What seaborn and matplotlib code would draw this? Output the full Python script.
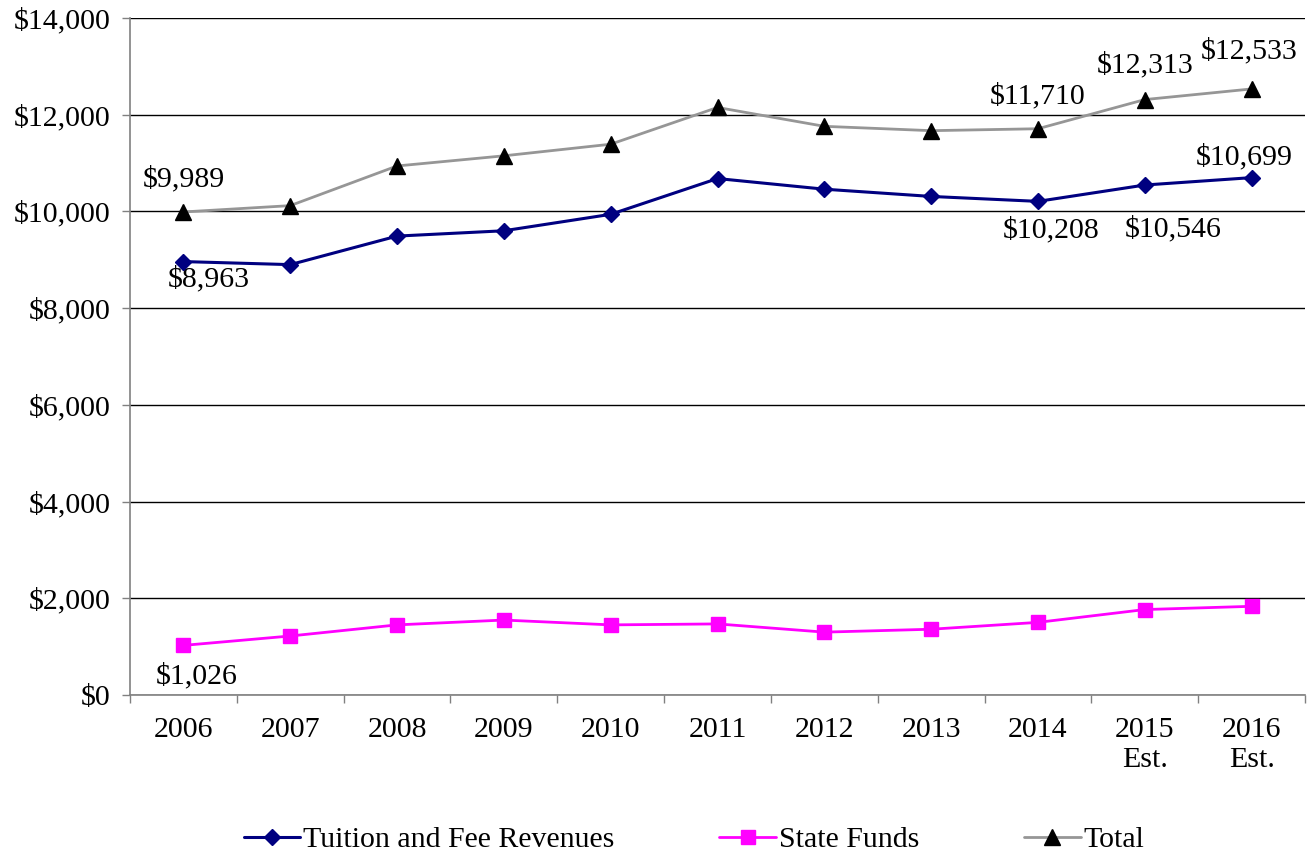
import matplotlib
matplotlib.use("Agg")
import matplotlib.pyplot as plt
from matplotlib.ticker import FuncFormatter, FixedLocator
import seaborn as sns
import numpy as np

categories = ["2006", "2007", "2008", "2009", "2010", "2011", "2012", "2013", "2014", "2015\nEst.", "2016\nEst."]
tuition = [8963, 8900, 9490, 9600, 9940, 10680, 10460, 10310, 10208, 10546, 10699]
state_funds = [1026, 1220, 1450, 1550, 1450, 1470, 1300, 1360, 1502, 1767, 1834]
total = [9989, 10120, 10940, 11150, 11390, 12150, 11760, 11670, 11710, 12313, 12533]

# labelled points: (series, index)
tuition_labels = [0, 8, 9, 10]
state_labels = [0]
total_labels = [0, 8, 9, 10]

sns.set_theme(style="white")
plt.rcParams['font.family'] = ['Liberation Serif', 'DejaVu Serif']
plt.rcParams['text.color'] = 'black'

fig = plt.figure(figsize=(13.07, 8.57), dpi=100)
ax = fig.add_axes([130/1307, 1-695/857, 1175/1307, 677/857])

x = np.arange(len(categories))

sns.lineplot(x=x, y=total, ax=ax, color="#969696", linewidth=2, marker="^",
             markersize=11, markerfacecolor="black", markeredgecolor="black",
             markeredgewidth=1, label="Total", zorder=3)
sns.lineplot(x=x, y=tuition, ax=ax, color="#000080", linewidth=2.2, marker="D",
             markersize=8, markerfacecolor="#000080", markeredgecolor="#000080",
             markeredgewidth=1, label="Tuition and Fee Revenues", zorder=4)
sns.lineplot(x=x, y=state_funds, ax=ax, color="#FF00FF", linewidth=2, marker="s",
             markersize=10, markerfacecolor="#FF00FF", markeredgecolor="#FF00FF",
             markeredgewidth=1, label="State Funds", zorder=4)

fs = 21.5

ax.set_xlim(-0.5, len(categories) - 0.5)
ax.set_ylim(0, 14000)
ax.set_yticks(np.arange(0, 14001, 2000))
ax.yaxis.set_major_formatter(FuncFormatter(lambda v, p: f"${v:,.0f}"))
ax.grid(axis="y", color="black", linewidth=1)
ax.set_axisbelow(True)

ax.set_xticks(x)
ax.set_xticklabels(categories, linespacing=1.2)
ax.xaxis.set_minor_locator(FixedLocator(np.arange(-0.5, len(categories), 1.0)))
ax.tick_params(axis="x", which="major", length=0, pad=16, labelsize=fs, colors="black")
ax.tick_params(axis="x", which="minor", length=6, width=1, color="#808080", direction="out", bottom=True)
ax.tick_params(axis="y", which="major", length=6, width=1, color="#808080", direction="out",
               left=True, pad=8, labelsize=fs, labelcolor="black")

for s in ["top", "right"]:
    ax.spines[s].set_visible(False)
for s in ["left", "bottom"]:
    ax.spines[s].set_color("#808080")
    ax.spines[s].set_linewidth(1.2)

def lab(i, vals, dx, dy):
    ax.annotate(f"${vals[i]:,}", xy=(x[i], vals[i]), xytext=(dx, dy),
                textcoords="offset pixels", ha="center", va="center", fontsize=fs, color="black")

offs_total = {0: (0, 33), 8: (0, 33), 9: (0, 35), 10: (-2, 38)}
for i in total_labels:
    lab(i, total, *offs_total[i])
offs_tuition = {0: (25, -17), 8: (13, -29), 9: (28, -44), 10: (-7, 21)}
for i in tuition_labels:
    lab(i, tuition, *offs_tuition[i])
offs_state = {0: (13, -31)}
for i in state_labels:
    lab(i, state_funds, *offs_state[i])

handles, labels = ax.get_legend_handles_labels()
order = [labels.index("Tuition and Fee Revenues"), labels.index("State Funds"), labels.index("Total")]
if ax.get_legend():
    ax.get_legend().remove()
fig.legend([handles[i] for i in order], [labels[i] for i in order], loc="center",
           bbox_to_anchor=(694/1307, 1-840/857), ncol=3, frameon=False, fontsize=fs,
           handlelength=1.9, handletextpad=0.1, columnspacing=3.5, borderaxespad=0,
           labelcolor="black")

fig.savefig("out.png", dpi=100)
